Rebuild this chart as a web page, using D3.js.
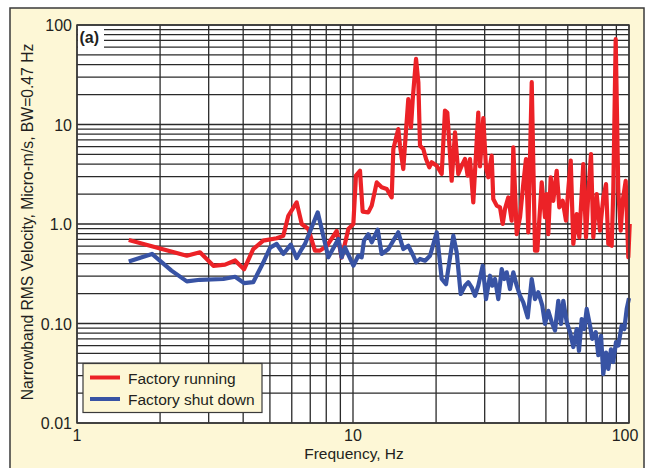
<!DOCTYPE html>
<html>
<head>
  <meta charset="utf-8">
  <script src="https://d3js.org/d3.v7.min.js"></script>
  <style>
    body { margin: 0; background: #fff; }
    text { font-family: "Liberation Sans", Arial, Helvetica, sans-serif; fill: #231f20; }
  </style>
</head>
<body>
<script type="text/javascript">
  // Factory running: [frequency Hz, velocity]
  var running = [
    [1.54, 0.69], [2.50, 0.48], [2.79, 0.52], [3.12, 0.38], [3.44, 0.39], [3.74, 0.43],
    [4.03, 0.35], [4.35, 0.56], [4.73, 0.68], [5.29, 0.72], [5.59, 0.76], [5.83, 1.21],
    [6.25, 1.65], [6.52, 1.00], [6.89, 0.89], [7.28, 0.54], [7.59, 0.54], [8.03, 0.60],
    [8.73, 0.85], [9.10, 0.46], [9.62, 0.89], [10.03, 1.0], [10.25, 3.06], [10.60, 3.43],
    [10.84, 1.33], [11.36, 1.31], [11.69, 1.53], [12.19, 2.62], [12.70, 2.34], [13.25, 2.25],
    [13.81, 1.85], [14.00, 5.66], [14.59, 9.0], [14.80, 6.12], [15.21, 3.57], [15.86, 18.0],
    [16.22, 9.36], [16.46, 18.0], [16.92, 45.6], [17.25, 26.5], [17.49, 6.12], [17.98, 5.66],
    [18.39, 4.5], [18.90, 3.71], [19.28, 4.17], [20.11, 3.85], [20.96, 3.18], [21.54, 13.8],
    [21.96, 13.2], [22.78, 2.72], [23.42, 8.34], [24.07, 3.18], [24.77, 3.85], [25.46, 4.5],
    [26.03, 3.06], [26.54, 4.5], [27.28, 1.65], [28.44, 13.2], [28.85, 3.8], [29.65, 11.6],
    [30.33, 3.71], [30.92, 2.95], [31.80, 4.86], [32.23, 1.78], [33.17, 1.53], [34.09, 1.47],
    [34.87, 1.0], [35.54, 1.42], [36.53, 1.85], [37.58, 1.08], [38.09, 5.90], [39.19, 0.79],
    [40.29, 1.17], [41.40, 2.52], [42.35, 4.50], [43.17, 0.825], [44.42, 26.6], [45.65, 0.54],
    [46.54, 0.54], [48.28, 2.62], [49.63, 1.17], [50.34, 2.00], [51.01, 0.79], [52.04, 2.95],
    [53.18, 1.71], [54.70, 3.43], [55.91, 1.47], [57.52, 1.71], [59.12, 1.08], [60.28, 2.25],
    [61.50, 4.33], [62.84, 0.63], [64.64, 1.26], [66.06, 0.735], [68.30, 4.01], [69.86, 0.735],
    [71.20, 2.00], [72.83, 5.05], [74.25, 0.735], [76.38, 2.00], [78.51, 0.856], [80.71, 1.85],
    [82.55, 2.52], [84.14, 0.63], [86.56, 0.605], [87.72, 2.16], [89.49, 72], [91.45, 2.16],
    [93.30, 0.856], [94.88, 1.71], [97.28, 2.72], [99.42, 0.463], [100.6, 1.0]
  ];

  // Factory shut down: [frequency Hz, velocity]
  var shutdown = [
    [1.54, 0.42], [1.87, 0.50], [2.20, 0.34], [2.50, 0.265], [2.79, 0.275], [3.39, 0.28],
    [3.74, 0.295], [4.03, 0.255], [4.35, 0.26], [4.73, 0.41], [5.01, 0.58], [5.29, 0.63],
    [5.59, 0.50], [5.95, 0.62], [6.25, 0.455], [6.52, 0.56], [6.70, 0.63], [7.45, 1.31],
    [8.14, 0.463], [8.85, 0.707], [9.10, 0.463], [9.35, 0.583], [10.03, 0.381], [10.45, 0.48],
    [10.75, 0.463], [10.96, 0.68], [11.36, 0.79], [11.69, 0.655], [12.29, 0.877], [12.70, 0.50],
    [13.43, 0.561], [14.00, 0.68], [14.59, 0.825], [15.21, 0.561], [15.86, 0.605], [16.54, 0.48],
    [16.92, 0.412], [17.49, 0.445], [18.24, 0.428], [19.01, 0.48], [20.11, 0.825], [20.96, 0.28],
    [21.73, 0.249], [23.09, 0.763], [23.75, 0.52], [24.56, 0.198], [25.46, 0.24], [26.17, 0.26],
    [26.92, 0.231], [27.67, 0.19], [28.44, 0.24], [29.51, 0.381], [30.33, 0.176], [31.36, 0.302],
    [31.97, 0.24], [32.70, 0.28], [33.61, 0.176], [34.58, 0.353], [35.33, 0.28], [36.05, 0.327],
    [37.05, 0.222], [38.09, 0.327], [39.19, 0.24], [40.29, 0.19], [41.40, 0.163], [42.95, 0.115],
    [44.42, 0.28], [45.65, 0.176], [46.93, 0.206], [48.52, 0.151], [49.63, 0.099], [51.01, 0.134],
    [52.48, 0.103], [53.94, 0.085], [55.45, 0.169], [56.71, 0.099], [57.81, 0.169], [59.48, 0.103],
    [61.13, 0.082], [62.84, 0.058], [64.64, 0.088], [65.89, 0.053], [67.40, 0.111], [68.87, 0.088],
    [70.26, 0.14], [72.23, 0.095], [73.62, 0.070], [75.75, 0.082], [77.42, 0.048], [79.19, 0.075],
    [80.71, 0.031], [82.55, 0.051], [84.14, 0.035], [86.06, 0.055], [87.72, 0.041], [89.72, 0.065],
    [91.45, 0.060], [94.09, 0.095], [96.17, 0.088], [98.11, 0.14], [100.0, 0.18]
  ];

  var xTickLabels = ["1", "10", "100"];
  var yTickLabels = ["0.01", "0.10", "1.0", "10", "100"];
  var seriesNames = ["Factory running", "Factory shut down"];
  var seriesColors = ["#ec2227", "#3853a4"];

  var w = 647;
  var h = 468;
  var pL = 77, pR = 629, pT = 25, pB = 423;

  var svg = d3.select("body")
    .append("svg")
    .attr("width", w)
    .attr("height", h);

  // beige panel
  svg.append("rect")
    .attr("x", 10).attr("y", 8)
    .attr("width", 634).attr("height", 480)
    .attr("fill", "#fdf7d6")
    .attr("stroke", "#3a3a3a")
    .attr("stroke-width", 1.5);

  var xScale = d3.scaleLog().domain([1, 100]).range([pL, pR]);
  var yScale = d3.scaleLog().domain([0.01, 100]).range([pB, pT]);

  svg.append("rect")
    .attr("x", pL).attr("y", pT)
    .attr("width", pR - pL).attr("height", pB - pT)
    .attr("fill", "#fff");

  // grid
  var xGrid = [], yGrid = [];
  [1, 10].forEach(function(d){
    for (var k=1; k<10; k++) xGrid.push(d*k);
  });
  xGrid.push(100);
  [0.01, 0.1, 1, 10].forEach(function(d){
    for (var k=1; k<10; k++) yGrid.push(d*k);
  });
  yGrid.push(100);

  var grid = svg.append("g");
  grid.selectAll("line.v")
    .data(xGrid)
    .enter()
    .append("line")
    .attr("class", "v")
    .attr("x1", function(d){ return xScale(d); })
    .attr("x2", function(d){ return xScale(d); })
    .attr("y1", pT).attr("y2", pB)
    .attr("stroke", "#2a2a2a")
    .attr("stroke-width", 1.3);

  grid.selectAll("line.h")
    .data(yGrid)
    .enter()
    .append("line")
    .attr("class", "h")
    .attr("y1", function(d){ return yScale(d); })
    .attr("y2", function(d){ return yScale(d); })
    .attr("x1", pL).attr("x2", pR)
    .attr("stroke", "#2a2a2a")
    .attr("stroke-width", 1.3);

  // (a) tag with white patch
  svg.append("rect")
    .attr("x", pL + 1).attr("y", pT + 1)
    .attr("width", 26).attr("height", 22)
    .attr("fill", "#fff");
  svg.append("text")
    .attr("x", pL + 2.5).attr("y", pT + 18)
    .attr("font-size", 16)
    .attr("font-weight", "bold")
    .text("(a)");

  // series
  svg.append("clipPath").attr("id", "clip")
    .append("rect")
    .attr("x", pL).attr("y", pT)
    .attr("width", pR - pL + 3).attr("height", pB - pT);

  var line = d3.line()
    .x(function(d){ return xScale(d[0]); })
    .y(function(d){ return yScale(d[1]); });

  svg.append("g").attr("clip-path", "url(#clip)")
    .selectAll("path")
    .data([running, shutdown])
    .enter()
    .append("path")
    .attr("d", line)
    .attr("fill", "none")
    .attr("stroke", function(d, i){ return seriesColors[i]; })
    .attr("stroke-width", 4.2)
    .attr("stroke-linejoin", "round");

  // plot frame
  svg.append("rect")
    .attr("x", pL).attr("y", pT)
    .attr("width", pR - pL).attr("height", pB - pT)
    .attr("fill", "none")
    .attr("stroke", "#3a3a3a")
    .attr("stroke-width", 1.5);

  // tick labels
  svg.selectAll("text.ytick")
    .data(yTickLabels)
    .enter()
    .append("text")
    .attr("class", "ytick")
    .attr("x", 72)
    .attr("y", function(d){ return yScale(+d) + 6; })
    .attr("text-anchor", "end")
    .attr("font-size", 16)
    .text(function(d){ return d; });

  svg.selectAll("text.xtick")
    .data(xTickLabels)
    .enter()
    .append("text")
    .attr("class", "xtick")
    .attr("x", function(d){ return xScale(+d) - (d === "100" ? 4 : 0); })
    .attr("y", 441)
    .attr("text-anchor", "middle")
    .attr("font-size", 16)
    .text(function(d){ return d; });

  // axis titles
  svg.append("text")
    .attr("x", (pL + pR) / 2 + 1)
    .attr("y", 459)
    .attr("text-anchor", "middle")
    .attr("font-size", 15.5)
    .text("Frequency, Hz");

  svg.append("text")
    .attr("transform", "translate(33,222) rotate(-90)")
    .attr("text-anchor", "middle")
    .attr("font-size", 15.7)
    .text("Narrowband RMS Velocity, Micro-m/s, BW=0.47 Hz");

  // legend
  var legend = svg.append("g");
  legend.append("rect")
    .attr("x", 83).attr("y", 363.5)
    .attr("width", 179).attr("height", 49)
    .attr("fill", "#fdf7d6")
    .attr("stroke", "#3a3a3a")
    .attr("stroke-width", 1.2);

  var items = legend.selectAll("g.item")
    .data(seriesNames)
    .enter()
    .append("g")
    .attr("class", "item")
    .attr("transform", function(d, i){ return "translate(0," + (377.5 + i*21.5) + ")"; });

  items.append("line")
    .attr("x1", 90).attr("x2", 120)
    .attr("y1", 0).attr("y2", 0)
    .attr("stroke", function(d, i){ return seriesColors[i]; })
    .attr("stroke-width", 4);

  items.append("text")
    .attr("x", 128)
    .attr("y", 6)
    .attr("font-size", 15.5)
    .text(function(d){ return d; });
</script>
</body>
</html>
